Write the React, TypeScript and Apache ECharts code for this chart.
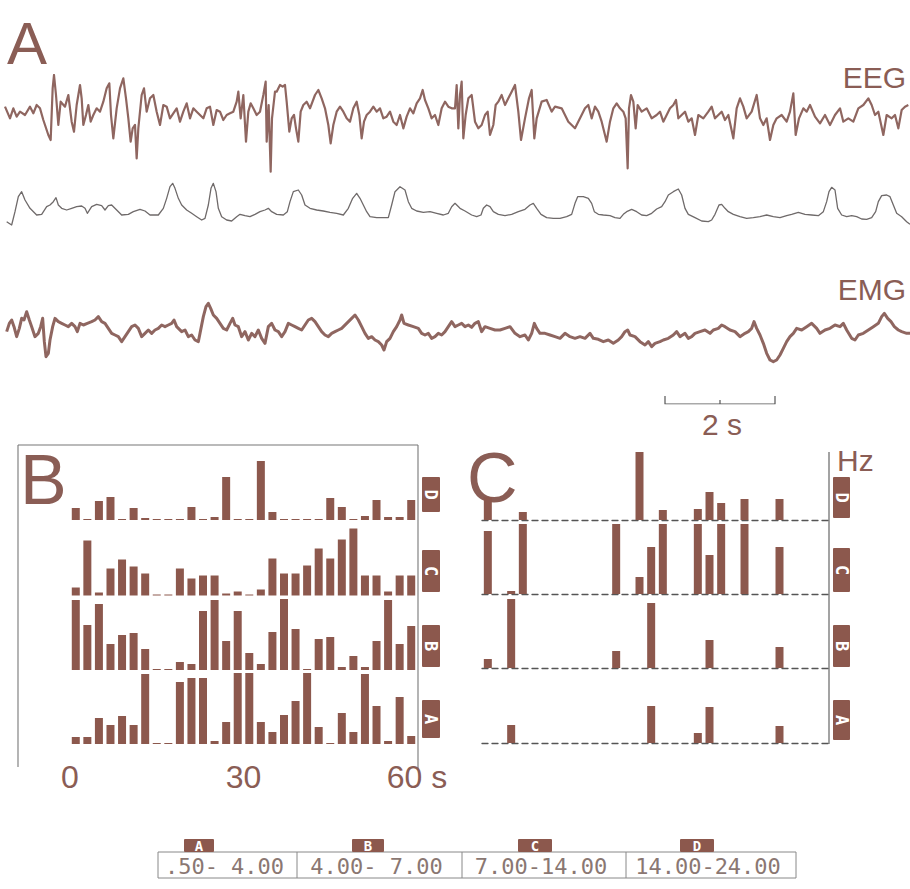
import React, { useEffect, useRef } from "react";
import * as echarts from "echarts";

// ---------- DATA ----------
// polygraphic record: sample index (165 samples / s) and downward deflection (a.u.)
const FS = 165;
const HALF = 1365; // first sample of the second half of the record
const TOTAL = 2730;

const eegFirst: [number, number][] = [
  [15,95],[30,130],[40,100],[50,125],[60,110],[75,120],[90,95],[100,115],[110,90],[120,100],[130,135],[145,180],[152,195],[158,40],[162,0],[168,60],[175,150],[182,80],[195,95],[205,60],[215,140],[222,170],[230,90],[240,30],[245,70],[250,150],[258,120],[265,90],[272,140],[280,120],[290,100],[300,110],[310,80],[320,40],[328,25],[333,120],[340,190],[350,100],[360,40],[370,10],[378,70],[385,130],[392,200],[398,160],[405,150],[410,250],[415,160],[425,60],[432,40],[440,110],[450,70],[460,60],[470,110],[480,150],[490,90],[500,95],[510,130],[520,115],[530,100],[540,140],[550,110],[560,85],[570,130],[580,100],[590,110],[600,120],[610,130],[620,100],[630,95],[640,150],[650,105],[660,110],[670,135],[680,120],[690,115],[700,110],[710,80],[715,50],[722,130],[730,60],[738,200],[745,110],[752,85],[760,100],[770,120],[780,110],[790,60],[797,20],[800,200],[806,90],[812,290],[816,130],[825,50],[830,50],[840,30],[848,35],[855,30],[860,80],[868,170],[875,130],[882,120],[888,160],[895,200],[902,110],[910,90],[920,80],[930,100],[945,60],[955,45],[965,70],[975,100],[985,150],[992,205],[1000,150],[1010,110],[1020,95],[1030,110],[1040,130],[1050,140],[1060,100],[1070,80],[1078,120],[1085,190],[1092,140],[1100,120],[1110,110],[1120,95],[1130,110],[1140,100],[1150,130],[1160,125],[1170,110],[1180,140],[1190,150],[1200,120],[1210,160],[1220,125],[1230,100],[1240,115],[1250,85],[1260,70],[1268,45],[1275,75],[1285,100],[1295,130],[1305,120],[1315,150],[1325,100],[1335,80],[1345,95],[1355,100]
];
const eegSecond: [number, number][] = [
  [0,100],[5,30],[10,160],[15,60],[20,20],[25,190],[32,120],[40,70],[50,60],[60,140],[70,160],[80,150],[90,120],[98,110],[105,180],[115,150],[122,90],[130,80],[140,60],[150,90],[160,70],[170,50],[180,30],[190,110],[198,195],[210,130],[222,70],[230,45],[238,190],[245,130],[260,80],[275,75],[290,110],[300,95],[320,100],[340,140],[360,160],[375,130],[390,100],[400,90],[410,130],[420,95],[430,110],[440,140],[455,200],[465,140],[475,100],[485,85],[495,100],[505,110],[512,130],[518,280],[522,100],[528,60],[535,80],[542,160],[548,90],[560,110],[575,100],[590,130],[605,120],[615,110],[625,140],[635,120],[645,100],[655,90],[663,75],[670,130],[680,120],[690,110],[700,140],[710,130],[720,180],[730,120],[745,130],[760,110],[770,95],[780,130],[790,120],[800,110],[810,135],[820,120],[835,190],[845,100],[855,70],[865,95],[875,130],[890,110],[905,60],[915,130],[925,150],[935,130],[945,195],[955,150],[965,130],[980,120],[995,140],[1005,110],[1015,55],[1022,180],[1032,130],[1045,100],[1055,110],[1065,90],[1080,125],[1095,145],[1110,120],[1125,150],[1140,120],[1155,100],[1165,140],[1180,130],[1195,140],[1210,100],[1225,90],[1240,70],[1250,90],[1260,120],[1270,110],[1285,180],[1295,120],[1310,130],[1320,120],[1330,160],[1340,105],[1350,95],[1360,90]
];
const respFirst: [number, number][] = [
  [20,140],[35,150],[45,110],[55,65],[65,50],[75,75],[90,100],[110,120],[125,118],[140,95],[150,90],[160,80],[168,68],[175,90],[185,100],[200,105],[215,100],[230,95],[245,93],[255,100],[262,115],[275,95],[290,88],[305,92],[315,105],[325,92],[335,90],[350,105],[365,120],[385,118],[400,110],[420,103],[435,108],[450,120],[475,120],[490,100],[500,70],[510,35],[518,25],[525,40],[535,70],[545,90],[560,105],[575,115],[590,125],[605,135],[615,130],[625,90],[633,40],[640,25],[648,50],[655,100],[665,125],[680,135],[695,138],[710,125],[720,118],[735,122],[750,125],[765,118],[780,110],[795,105],[805,100],[815,110],[830,118],[850,120],[862,110],[870,80],[880,50],[895,45],[905,60],[915,90],[930,100],[950,105],[970,108],[990,112],[1010,115],[1030,120],[1045,100],[1058,70],[1070,55],[1080,70],[1090,90],[1100,110],[1110,125],[1130,128],[1150,128],[1165,128],[1175,90],[1185,50],[1200,35],[1215,45],[1225,80],[1235,100],[1250,108],[1270,112],[1290,110],[1310,115],[1330,120],[1345,115],[1355,95]
];
const respSecond: [number, number][] = [
  [0,85],[15,100],[30,108],[50,120],[65,125],[78,120],[85,100],[95,90],[105,95],[115,110],[130,118],[150,122],[170,118],[190,110],[210,103],[225,90],[235,85],[245,100],[258,118],[275,128],[295,130],[315,130],[335,125],[350,118],[360,85],[368,65],[385,65],[400,70],[410,85],[418,110],[430,118],[445,120],[465,122],[480,128],[495,130],[505,118],[515,110],[530,103],[545,110],[560,120],[575,122],[590,115],[605,102],[620,95],[630,80],[640,60],[655,50],[670,42],[680,60],[690,100],[700,118],[720,128],[740,138],[760,140],[770,135],[780,118],[792,90],[800,88],[810,100],[820,110],[835,118],[855,125],[875,130],[895,128],[915,125],[935,120],[955,125],[975,128],[995,122],[1010,118],[1030,112],[1050,118],[1070,120],[1090,122],[1105,110],[1115,80],[1122,50],[1130,37],[1140,45],[1148,100],[1160,120],[1175,125],[1190,122],[1205,125],[1220,132],[1235,133],[1250,128],[1262,110],[1270,80],[1280,62],[1295,60],[1305,65],[1315,90],[1325,115],[1340,125],[1355,140],[1365,148]
];
const emgFirst: [number, number][] = [
  [20,125],[28,100],[35,90],[42,110],[50,140],[58,115],[65,85],[72,90],[80,65],[88,90],[95,110],[105,140],[115,130],[122,110],[128,85],[133,155],[138,200],[145,190],[150,150],[158,110],[165,85],[175,95],[185,100],[195,105],[205,110],[215,100],[225,110],[232,125],[240,100],[250,105],[262,100],[275,95],[285,90],[295,80],[305,95],[315,100],[325,115],[335,130],[345,135],[355,140],[365,155],[375,140],[385,125],[395,110],[405,105],[415,115],[425,140],[435,130],[445,120],[455,130],[465,120],[475,115],[485,105],[495,110],[505,105],[515,100],[522,90],[530,110],[545,125],[555,120],[565,140],[575,135],[585,150],[595,155],[600,130],[610,80],[618,50],[625,40],[632,55],[640,75],[650,85],[660,100],[670,115],[680,120],[690,100],[698,85],[705,105],[715,110],[725,140],[735,125],[745,150],[755,130],[765,140],[775,120],[785,145],[795,160],[805,110],[815,100],[825,120],[835,125],[845,140],[855,125],[865,100],[875,105],[885,110],[895,115],[905,120],[915,105],[925,90],[935,85],[945,95],[955,110],[965,125],[975,135],[985,140],[995,130],[1005,125],[1015,120],[1025,115],[1040,100],[1055,85],[1065,75],[1075,90],[1085,110],[1095,130],[1105,145],[1115,140],[1125,150],[1135,155],[1145,165],[1152,180],[1160,155],[1170,145],[1180,125],[1190,110],[1200,90],[1205,75],[1212,100],[1225,105],[1240,110],[1255,115],[1265,130],[1275,135],[1285,130],[1295,145],[1305,140],[1315,130],[1325,135],[1335,125],[1345,110],[1355,95]
];
const emgSecond: [number, number][] = [
  [0,110],[10,105],[20,100],[30,110],[40,105],[50,112],[60,100],[70,95],[80,125],[90,110],[105,115],[120,120],[135,120],[150,115],[165,110],[180,130],[195,140],[210,135],[220,150],[230,130],[238,100],[245,115],[255,130],[270,130],[285,135],[300,140],[315,145],[330,130],[345,140],[360,145],[375,140],[390,145],[405,130],[415,145],[430,148],[445,155],[460,150],[475,160],[490,150],[500,140],[510,125],[518,120],[525,135],[540,140],[555,155],[570,165],[580,155],[590,170],[600,160],[615,155],[625,150],[640,145],[655,135],[665,125],[675,140],[690,130],[700,145],[710,140],[720,130],[735,125],[750,120],[765,130],[775,120],[790,115],[800,105],[810,110],[825,120],[840,125],[855,140],[870,130],[880,125],[890,115],[897,95],[905,115],[915,135],[925,160],[935,190],[945,210],[955,215],[965,210],[975,195],[985,175],[995,155],[1005,140],[1015,130],[1025,115],[1040,120],[1055,110],[1070,100],[1085,115],[1095,130],[1110,120],[1125,115],[1140,105],[1155,110],[1165,100],[1175,120],[1190,145],[1200,150],[1210,135],[1225,130],[1240,120],[1255,110],[1270,100],[1280,80],[1288,70],[1298,85],[1308,95],[1318,110],[1330,120],[1340,125],[1355,130],[1365,130]
];

// calibration bar
const scaleBarSeconds = 2;
const scaleBarStart = 1995; // sample

// spectral bands: 2-s epochs over 60 s (bin centres, s)
const binT = [1,3,5,7,9,11,13,15,17,19,21,23,25,27,29,31,33,35,37,39,41,43,45,47,49,51,53,55,57,59];
// panel B (relative power, full scale 71)
const bBandD = [12,1,19,23,1,12,2,1,1,1,13,1,3,43,1,1,59,8,1,1,1,1,22,13,1,4,20,3,3,20];
const bBandC = [8,55,3,27,36,29,22,1,1,27,17,20,20,2,4,1,6,37,22,22,30,47,37,56,67,20,20,4,20,20];
const bBandB = [70,45,66,26,35,37,21,1,1,8,6,59,70,29,59,17,6,38,71,41,1,31,33,3,14,3,29,70,26,44];
const bBandA = [7,7,26,19,28,19,70,1,1,62,66,66,3,22,71,71,22,12,29,43,71,17,1,31,12,70,38,3,47,8];
// panel C
const cBandD = [23,0,0,8,0,0,0,0,0,0,0,0,0,68,0,10,0,0,11,28,17,0,21,0,0,21,0,0,0,0];
const cBandC = [63,0,3,70,0,0,0,0,0,0,0,70,0,17,47,70,0,0,70,39,70,0,70,0,0,47,0,0,0,0];
const cBandB = [9,0,69,0,0,0,0,0,0,0,0,17,0,0,65,0,0,0,0,28,0,0,0,0,0,21,0,0,0,0];
const cBandA = [0,0,18,0,0,0,0,0,0,0,0,0,0,0,37,0,0,0,10,36,0,0,0,0,0,17,0,0,0,0];

const rowLetters = ["D", "C", "B", "A"];
const bandLetters = ["A", "B", "C", "D"];
const bandRanges = [".50- 4.00", "4.00- 7.00", "7.00-14.00", "14.00-24.00"];
const timeTickInterval = 30;

// ---------- STYLE ----------
const BROWN = "#8c584d";
const TEXT = "#8a5d55";
const TRACE = "#8f6660";
const FONT = "'Liberation Sans', Arial, Helvetica, sans-serif";
const MONO = "'DejaVu Sans Mono', 'Liberation Mono', monospace";
const FULL = 71;

function App() {
  const ref = useRef<HTMLDivElement>(null);

  useEffect(() => {
    if (!ref.current) return;
    const chart = echarts.init(ref.current, null, { renderer: "svg" });

    const bBase = [520, 595.5, 670, 744];
    const cBase = [520, 594, 668, 743];
    const grids: any[] = [
      { left: 0, top: 75, width: 910, height: 105 },
      { left: 0, top: 175, width: 910, height: 60 },
      { left: 0, top: 290, width: 910, height: 80 },
      { left: 0, top: 396, width: 910, height: 8 },
    ];
    bBase.forEach((b) => grids.push({ left: 70, top: b - FULL, width: 347, height: FULL }));
    cBase.forEach((b) => grids.push({ left: 482, top: b - FULL, width: 350, height: FULL }));

    const xAxis: any[] = [];
    const yAxis: any[] = [];
    const traceMax = [315, 180, 240];
    for (let i = 0; i < 3; i++) {
      xAxis.push({ gridIndex: i, type: "value", min: 0, max: TOTAL, show: false });
      yAxis.push({ gridIndex: i, type: "value", min: 0, max: traceMax[i], inverse: true, show: false });
    }
    xAxis.push({ gridIndex: 3, type: "value", min: 0, max: TOTAL, show: false });
    yAxis.push({ gridIndex: 3, type: "value", min: 0, max: 1, show: false });
    for (let r = 0; r < 4; r++) {
      const isBottom = r === 3;
      xAxis.push({
        gridIndex: 4 + r,
        type: "value",
        min: 0,
        max: 60,
        interval: timeTickInterval,
        show: isBottom,
        axisLine: { show: false },
        axisTick: { show: false },
        splitLine: { show: false },
        axisLabel: {
          show: isBottom,
          margin: 17,
          fontSize: 32,
          color: TEXT,
          fontFamily: FONT,
          showMinLabel: true,
          showMaxLabel: true,
          formatter: (v: number) => (v === 60 ? "60 s" : String(v)),
        },
      });
      yAxis.push({ gridIndex: 4 + r, type: "value", min: 0, max: FULL, show: false });
    }
    for (let r = 0; r < 4; r++) {
      xAxis.push({
        gridIndex: 8 + r,
        type: "value",
        min: 0,
        max: 60,
        show: true,
        axisLine: { show: true, lineStyle: { color: "#555", width: 1.3, type: [6, 4] } },
        axisTick: { show: false },
        axisLabel: { show: false },
        splitLine: { show: false },
      });
      yAxis.push({ gridIndex: 8 + r, type: "value", min: 0, max: FULL, show: false });
    }

    const shift = (arr: [number, number][]) => arr.map(([s, v]) => [s + HALF, v]);
    const traceSeries = (idx: number, data: any[], color: string, width: number) => ({
      type: "line",
      xAxisIndex: idx,
      yAxisIndex: idx,
      data,
      symbol: "none",
      showSymbol: false,
      silent: true,
      lineStyle: { color, width, join: "round" },
    });

    const series: any[] = [
      traceSeries(0, [...eegFirst, ...shift(eegSecond)], TRACE, 2.2),
      traceSeries(1, [...respFirst, ...shift(respSecond)], "#6f6a6a", 1.3),
      traceSeries(2, [...emgFirst, ...shift(emgSecond)], TRACE, 3),
    ];
    const barEnd = scaleBarStart + scaleBarSeconds * FS;
    series.push(
      traceSeries(3, [[scaleBarStart, 1], [scaleBarStart, 0], [barEnd, 0], [barEnd, 1]], "#555", 1.2),
      traceSeries(3, [[(scaleBarStart + barEnd) / 2, 0], [(scaleBarStart + barEnd) / 2, 0.5]], "#555", 1.2)
    );

    const bRows = [bBandD, bBandC, bBandB, bBandA];
    const cRows = [cBandD, cBandC, cBandB, cBandA];
    const barSeries = (idx: number, vals: number[]) => ({
      type: "bar",
      xAxisIndex: idx,
      yAxisIndex: idx,
      barWidth: 8,
      silent: true,
      itemStyle: { color: BROWN },
      data: binT.map((t, k) => [t, vals[k]]).filter((d) => d[1] > 0),
    });
    bRows.forEach((vals, r) => series.push(barSeries(4 + r, vals)));
    cRows.forEach((vals, r) => series.push(barSeries(8 + r, vals)));

    const txt = (text: string, x: number, y: number, fontSize: number, align = "left", fill = TEXT, family = FONT) => ({
      type: "text",
      x,
      y,
      silent: true,
      style: {
        text,
        fill,
        fontSize,
        fontFamily: family,
        align,
        textAlign: align,
        verticalAlign: "middle",
        textVerticalAlign: "middle",
      },
    });
    const line = (x1: number, y1: number, x2: number, y2: number, color = "#777", w = 1.1) => ({
      type: "line",
      silent: true,
      shape: { x1, y1, x2, y2 },
      style: { stroke: color, lineWidth: w },
    });
    const tag = (x: number, y: number, w: number, h: number, letter: string, rotate: boolean, fs: number) => ({
      type: "group",
      silent: true,
      children: [
        { type: "rect", shape: { x, y, width: w, height: h, r: 1 }, style: { fill: BROWN } },
        {
          type: "text",
          x: x + w / 2,
          y: y + h / 2,
          rotation: rotate ? -Math.PI / 2 : 0,
          style: {
            text: letter,
            fill: "#ffffff",
            fontSize: fs,
            fontWeight: "bold",
            fontFamily: MONO,
            align: "center",
            textAlign: "center",
            verticalAlign: "middle",
            textVerticalAlign: "middle",
          },
        },
      ],
    });

    const bTags = [[477, 512], [550, 592], [625, 667], [700, 738]];
    const cTags = [[477, 518], [548, 592], [625, 667], [700, 740]];
    const tabX = [[184, 214], [352, 384], [518, 552], [680, 714]];
    const cellX = [158, 297, 462, 626, 796];

    const elements: any[] = [
      txt("A", 7, 43, 60),
      txt("EEG", 906, 77, 30, "right"),
      txt("EMG", 906, 289, 30, "right"),
      txt("2 s", 722, 424, 30, "center"),
      txt("B", 20, 480, 70),
      txt("C", 467, 478, 70),
      txt("Hz", 837, 460, 30),
      line(18, 445, 418, 445),
      line(18, 445, 18, 767),
      line(418, 445, 418, 770),
      line(829, 452, 829, 744, "#666", 1.2),
    ];
    rowLetters.forEach((l, i) => {
      elements.push(tag(422, bTags[i][0], 18, bTags[i][1] - bTags[i][0], l, true, 17));
      elements.push(tag(833, cTags[i][0], 17, cTags[i][1] - cTags[i][0], l, true, 17));
    });
    elements.push({
      type: "rect",
      silent: true,
      shape: { x: cellX[0], y: 852, width: cellX[4] - cellX[0], height: 26 },
      style: { fill: "none", stroke: "#888", lineWidth: 1 },
    });
    for (let i = 1; i < 4; i++) elements.push(line(cellX[i], 852, cellX[i], 878, "#888", 1));
    bandLetters.forEach((l, i) => {
      elements.push(tag(tabX[i][0], 839, tabX[i][1] - tabX[i][0], 13, l, false, 14));
      elements.push(txt(bandRanges[i], (cellX[i] + cellX[i + 1]) / 2 - 3, 866, 22, "center", "#8a7772", MONO));
    });

    chart.setOption({
      animation: false,
      backgroundColor: "#ffffff",
      grid: grids,
      xAxis,
      yAxis,
      series,
      graphic: { elements },
    });

    return () => chart.dispose();
  }, []);

  return (
    <div
      ref={ref}
      style={{ position: "absolute", left: 0, top: 0, width: 910, height: 889, background: "#fff" }}
    />
  );
}

export default App;
